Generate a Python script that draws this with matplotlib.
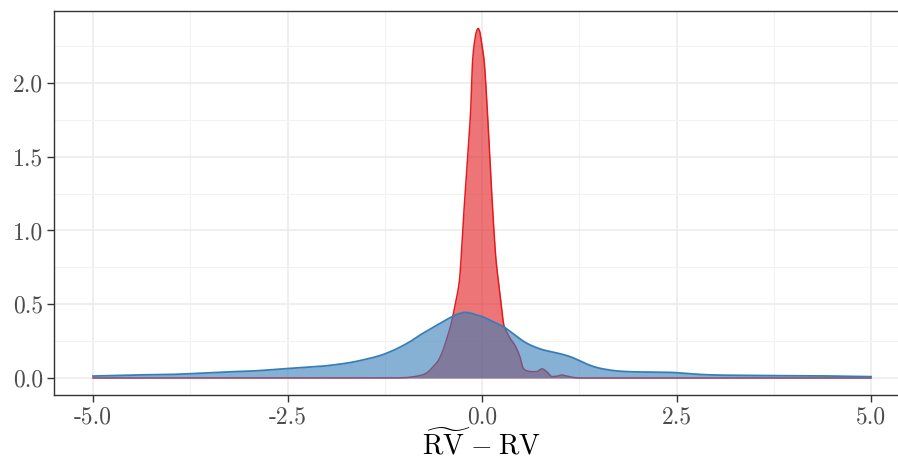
import matplotlib
matplotlib.use("Agg")
import matplotlib.pyplot as plt
import numpy as np

# density of the naive estimator (wide, blue)
blueX = [-5.0, -4.5, -4.0, -3.75, -3.5, -3.24, -3.0, -2.75, -2.5, -2.3, -2.12, -1.9, -1.7, -1.5,
         -1.31, -1.18, -1.05, -0.92, -0.80, -0.67, -0.54, -0.44, -0.37, -0.30, -0.22, -0.15,
         -0.07, 0.01, 0.06, 0.15, 0.27, 0.35, 0.45, 0.57, 0.68, 0.79, 0.90, 1.0, 1.13, 1.26,
         1.35, 1.45, 1.56, 1.77, 1.99, 2.2, 2.42, 2.63, 2.84, 3.1, 3.4, 3.74, 4.0, 4.26, 4.6, 5.0]
blueY = [0.013, 0.020, 0.024, 0.029, 0.035, 0.042, 0.046, 0.054, 0.064, 0.071, 0.077, 0.089,
         0.104, 0.126, 0.152, 0.178, 0.210, 0.248, 0.290, 0.330, 0.370, 0.400, 0.420, 0.435,
         0.445, 0.440, 0.427, 0.415, 0.402, 0.380, 0.350, 0.320, 0.280, 0.237, 0.210, 0.190,
         0.177, 0.165, 0.145, 0.116, 0.094, 0.075, 0.061, 0.046, 0.041, 0.040, 0.038, 0.030,
         0.023, 0.019, 0.018, 0.016, 0.015, 0.015, 0.012, 0.009]

# density of the corrected estimator (narrow, red)
redX = [-5.0, -1.2, -1.0, -0.93, -0.84, -0.76, -0.71, -0.63, -0.56, -0.50, -0.45, -0.40,
        -0.34, -0.29, -0.24, -0.19, -0.145, -0.12, -0.09, -0.07, -0.05, -0.03, -0.01, 0.026,
        0.068, 0.105, 0.145, 0.18, 0.21, 0.245, 0.28, 0.32, 0.36, 0.42, 0.49, 0.53, 0.58,
        0.64, 0.70, 0.77, 0.83, 0.90, 0.96, 1.02, 1.09, 1.15, 1.25, 5.0]
redY = [0.0, 0.0, 0.002, 0.005, 0.012, 0.022, 0.035, 0.075, 0.12, 0.19, 0.27, 0.36,
        0.51, 0.66, 1.07, 1.45, 1.82, 2.156, 2.30, 2.35, 2.37, 2.35, 2.29, 2.156,
        1.82, 1.45, 1.07, 0.80, 0.66, 0.51, 0.36, 0.31, 0.27, 0.225, 0.14, 0.066, 0.048,
        0.043, 0.043, 0.062, 0.043, 0.010, 0.012, 0.020, 0.013, 0.006, 0.0, 0.0]

xTicks = [-5.0, -2.5, 0.0, 2.5, 5.0]
xTickLabels = ["-5.0", "-2.5", "0.0", "2.5", "5.0"]
yTicks = [0.0, 0.5, 1.0, 1.5, 2.0]
yTickLabels = ["0.0", "0.5", "1.0", "1.5", "2.0"]


def pchip(x, y, xs):
    # shape preserving cubic, keeps the read points but smooths the corners
    x = np.asarray(x, float)
    y = np.asarray(y, float)
    h = np.diff(x)
    d = np.diff(y) / h
    m = np.zeros_like(y)
    for k in range(1, len(x) - 1):
        if d[k - 1] * d[k] > 0:
            w1 = 2 * h[k] + h[k - 1]
            w2 = h[k] + 2 * h[k - 1]
            m[k] = (w1 + w2) / (w1 / d[k - 1] + w2 / d[k])
    m[0] = d[0]
    m[-1] = d[-1]
    idx = np.clip(np.searchsorted(x, xs) - 1, 0, len(x) - 2)
    t = (xs - x[idx]) / h[idx]
    h00 = 2 * t**3 - 3 * t**2 + 1
    h10 = t**3 - 2 * t**2 + t
    h01 = -2 * t**3 + 3 * t**2
    h11 = t**3 - t**2
    return h00 * y[idx] + h10 * h[idx] * m[idx] + h01 * y[idx + 1] + h11 * h[idx] * m[idx + 1]


plt.rcParams["font.family"] = "serif"
plt.rcParams["font.serif"] = ["cmr10"]
plt.rcParams["mathtext.fontset"] = "cm"

redCol = "#E41A1C"
blueCol = "#377EB8"

grid = np.linspace(-5, 5, 2001)
redFine = np.clip(pchip(redX, redY, grid), 0, None)
blueFine = np.clip(pchip(blueX, blueY, grid), 0, None)

fig = plt.figure(figsize=(8.98, 4.59), dpi=100)
ax = fig.add_axes([54.1 / 898, 63.6 / 459, 855.8 / 898, 384.7 / 459])

ax.fill_between(grid, redFine, color=redCol, alpha=0.6, linewidth=0, zorder=2)
ax.plot(grid, redFine, color=redCol, linewidth=1.1, zorder=3)
ax.fill_between(grid, blueFine, color=blueCol, alpha=0.6, linewidth=0, zorder=4)
ax.plot(grid, blueFine, color=blueCol, linewidth=1.3, zorder=5)

ax.set_xlim(-5.5, 5.5)
ax.set_ylim(-0.118, 2.49)

ax.set_xticks(xTicks)
ax.set_xticklabels(xTickLabels)
ax.set_yticks(yTicks)
ax.set_yticklabels(yTickLabels)
ax.set_xticks([-3.75, -1.25, 1.25, 3.75], minor=True)
ax.set_yticks([0.25, 0.75, 1.25, 1.75, 2.25], minor=True)

ax.grid(True, which="major", color="#EBEBEB", linewidth=1.1, zorder=0)
ax.grid(True, which="minor", color="#F2F2F2", linewidth=0.8, zorder=0)
ax.set_axisbelow(True)

ax.tick_params(which="major", length=5, width=1.0, color="#333333",
               labelsize=17, labelcolor="#4D4D4D", pad=3)
ax.tick_params(which="minor", length=0)
for sp in ax.spines.values():
    sp.set_color("#333333")
    sp.set_linewidth(1.0)

ax.set_xlabel(r"$\widetilde{\mathrm{RV}}\;{-}\;\mathrm{RV}$", fontsize=20, labelpad=0)

plt.savefig("out.png", dpi=100)
